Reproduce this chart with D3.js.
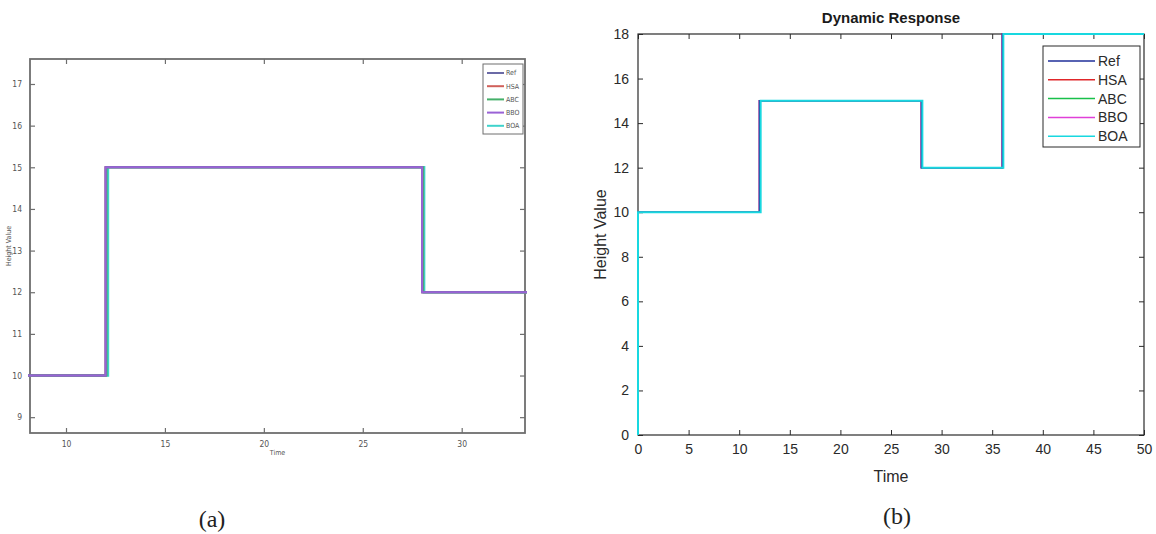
<!DOCTYPE html>
<html>
<head>
<script src="https://d3js.org/d3.v7.min.js"></script>
<style>
  body { margin: 0; background: #fff; }
  svg { display: block; }
</style>
</head>
<body>
<svg id="chart" width="1156" height="534"></svg>
<script>
// step responses: time where each level starts, and the level
var seriesNames = ["Ref", "HSA", "ABC", "BBO", "BOA"];
var refTimes = [0, 0, 12, 28, 36, 50];
var refValues = [0, 10, 15, 12, 18, 18];
var hsaTimes = [0, 0, 12, 28, 36, 50];
var hsaValues = [0, 10, 15, 12, 18, 18];
var abcTimes = [0, 0, 12.05, 28.05, 36.05, 50];
var abcValues = [0, 10, 15, 12, 18, 18];
var bboTimes = [0, 0, 12, 28, 36, 50];
var bboValues = [0, 10, 15, 12, 18, 18];
var boaTimes = [0, 0, 12.12, 28.1, 36.1, 50];
var boaValues = [0, 10, 15, 12, 18, 18];

var xTicksA = [10, 15, 20, 25, 30];
var yTicksA = [9, 10, 11, 12, 13, 14, 15, 16, 17];
var xTicksB = [0, 5, 10, 15, 20, 25, 30, 35, 40, 45, 50];
var yTicksB = [0, 2, 4, 6, 8, 10, 12, 14, 16, 18];

var colorsA = ["#6b6aa6", "#d0605a", "#45b06a", "#9a62d6", "#3fd3cc"];
var colorsB = ["#1f2f9a", "#e0262a", "#18c04a", "#e040d8", "#18d8e0"];

var allTimes = [refTimes, hsaTimes, abcTimes, bboTimes, boaTimes];
var allValues = [refValues, hsaValues, abcValues, bboValues, boaValues];

var svg = d3.select("#chart");

function panel(opt) {
  var x = d3.scaleLinear().domain(opt.xDomain).range([opt.left, opt.right]);
  var y = d3.scaleLinear().domain(opt.yDomain).range([opt.bottom, opt.top]);
  var g = svg.append("g");

  g.append("clipPath").attr("id", opt.id + "clip")
    .append("rect")
    .attr("x", opt.left - 2).attr("y", opt.top - 2)
    .attr("width", opt.right - opt.left + 4).attr("height", opt.bottom - opt.top + 4);

  // axes box
  g.append("rect")
    .attr("x", opt.left).attr("y", opt.top)
    .attr("width", opt.right - opt.left).attr("height", opt.bottom - opt.top)
    .attr("fill", "none").attr("stroke", opt.axisColor).attr("stroke-width", opt.axisWidth);

  var axB = d3.axisBottom(x).tickValues(opt.xTicks).tickSizeInner(-opt.tick).tickSizeOuter(0).tickPadding(opt.tick + opt.pad);
  var axT = d3.axisTop(x).tickValues(opt.xTicks).tickSizeInner(-opt.tick).tickSizeOuter(0).tickFormat("");
  var axL = d3.axisLeft(y).tickValues(opt.yTicks).tickSizeInner(-opt.tick).tickSizeOuter(0).tickPadding(opt.tick + opt.pad);
  var axR = d3.axisRight(y).tickValues(opt.yTicks).tickSizeInner(-opt.tick).tickSizeOuter(0).tickFormat("");

  [[axB, "translate(0," + opt.bottom + ")"], [axT, "translate(0," + opt.top + ")"],
   [axL, "translate(" + opt.left + ",0)"], [axR, "translate(" + opt.right + ",0)"]].forEach(function(a) {
    var ag = g.append("g").attr("transform", a[1]).call(a[0]);
    ag.select(".domain").remove();
    ag.selectAll("line").attr("stroke", opt.axisColor).attr("stroke-width", opt.tickWidth);
    ag.selectAll("text").attr("fill", opt.textColor)
      .style("font-family", opt.font).style("font-size", opt.tickFont + "px");
  });

  var line = d3.line()
    .x(function(d) { return x(d[0]); })
    .y(function(d) { return y(d[1]); })
    .curve(d3.curveStepAfter);

  var lines = g.append("g").attr("clip-path", "url(#" + opt.id + "clip)");
  opt.order.forEach(function(i) {
    var pts = allTimes[i].map(function(t, k) { return [t, allValues[i][k]]; });
    lines.append("path")
      .attr("d", line(pts))
      .attr("fill", "none")
      .attr("stroke", opt.colors[i])
      .attr("stroke-width", opt.widths[i]);
  });

  // labels
  g.append("text")
    .attr("x", (opt.left + opt.right) / 2).attr("y", opt.xLabelY)
    .attr("text-anchor", "middle").attr("fill", opt.textColor)
    .style("font-family", opt.font).style("font-size", opt.labelFont + "px")
    .text("Time");
  g.append("text")
    .attr("transform", "translate(" + opt.yLabelX + "," + ((opt.top + opt.bottom) / 2) + ") rotate(-90)")
    .attr("text-anchor", "middle").attr("fill", opt.textColor)
    .style("font-family", opt.font).style("font-size", opt.labelFont + "px")
    .text("Height Value");

  // legend
  var L = opt.legend;
  g.append("rect")
    .attr("x", L.x).attr("y", L.y).attr("width", L.w).attr("height", L.h)
    .attr("fill", "#fff").attr("stroke", opt.axisColor).attr("stroke-width", 1);
  seriesNames.forEach(function(name, i) {
    var yy = L.y + L.first + i * L.step;
    g.append("line")
      .attr("x1", L.x + L.lx1).attr("x2", L.x + L.lx2)
      .attr("y1", yy).attr("y2", yy)
      .attr("stroke", opt.colors[i]).attr("stroke-width", L.lw);
    g.append("text")
      .attr("x", L.x + L.tx).attr("y", yy).attr("dy", "0.35em")
      .attr("fill", opt.textColor)
      .style("font-family", opt.font).style("font-size", L.font + "px")
      .text(name);
  });
  return g;
}

panel({
  id: "a", xDomain: [8.18, 33.2], yDomain: [8.62, 17.6],
  left: 30, right: 525, top: 59, bottom: 433,
  xTicks: xTicksA, yTicks: yTicksA, tick: 5, pad: 3,
  colors: colorsA, widths: [2, 2, 2, 2, 2.5], order: [4, 1, 2, 0, 3],
  axisColor: "#6e6e6e", axisWidth: 1.8, tickWidth: 1.2, textColor: "#555",
  font: "'Liberation Sans Narrow', 'DejaVu Sans Condensed', Arial, sans-serif",
  tickFont: 8.5, labelFont: 7, xLabelY: 455, yLabelX: 11,
  legend: { x: 483, y: 64, w: 40, h: 70, first: 9, step: 13.2, lx1: 4, lx2: 21, tx: 23, lw: 2, font: 7 }
});

panel({
  id: "b", xDomain: [0, 50], yDomain: [0, 18],
  left: 638, right: 1144, top: 34, bottom: 435,
  xTicks: xTicksB, yTicks: yTicksB, tick: 5, pad: 4,
  colors: colorsB, widths: [1.5, 1.5, 1.5, 1.5, 2], order: [1, 2, 3, 0, 4],
  axisColor: "#2a2a2a", axisWidth: 1.2, tickWidth: 1, textColor: "#2a2a2a",
  font: "'Liberation Sans', Arial, Helvetica, sans-serif",
  tickFont: 14, labelFont: 16, xLabelY: 482, yLabelX: 606,
  legend: { x: 1043, y: 46, w: 97, h: 101, first: 15, step: 18.8, lx1: 5, lx2: 52, tx: 55, lw: 1.5, font: 14 }
});

svg.append("text")
  .attr("x", 891).attr("y", 23)
  .attr("text-anchor", "middle").attr("fill", "#1a1a1a")
  .style("font-family", "'Liberation Sans', Arial, sans-serif")
  .style("font-size", "15px").style("font-weight", "bold")
  .text("Dynamic Response");

svg.append("text").attr("x", 212).attr("y", 527).attr("text-anchor", "middle")
  .style("font-family", "'Liberation Serif', 'Times New Roman', serif").style("font-size", "24px")
  .attr("fill", "#222").text("(a)");
svg.append("text").attr("x", 897).attr("y", 524).attr("text-anchor", "middle")
  .style("font-family", "'Liberation Serif', 'Times New Roman', serif").style("font-size", "24px")
  .attr("fill", "#222").text("(b)");
</script>
</body>
</html>
